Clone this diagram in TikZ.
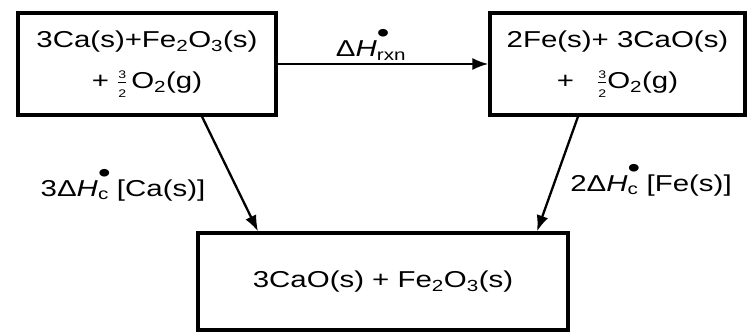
\documentclass[tikz,border=0pt]{standalone}
\usepackage{fontspec}
\setmainfont{Liberation Sans}[FakeStretch=1.28]
\usetikzlibrary{arrows.meta}
\newcommand{\chemsize}{\fontsize{23}{41}\selectfont}
\newcommand{\thalf}{\ensuremath{\frac{\mbox{\fontsize{11}{11}\selectfont 3}}{\mbox{\fontsize{11}{11}\selectfont 2}}}}
\newcommand{\dH}[1]{Δ\textit{H}\makebox[0pt][l]{\raisebox{0.6em}{\fontsize{28}{28}\selectfont\textbullet}}\textsubscript{#1}}
\begin{document}
\begin{tikzpicture}[x=1pt, y=1pt, font=\chemsize,
    box/.style={draw, line width=3.2pt, align=center, inner sep=0pt},
    arr/.style={-{Latex[length=16pt,width=12pt]}, line width=2.3pt}]
  \useasboundingbox (0,0) rectangle (747,332);
  \node[box, minimum width=258pt, minimum height=102pt] (reac) at (147,268)
    {3Ca(s)+Fe\textsubscript{2}O\textsubscript{3}(s)\\ + \thalf\,O\textsubscript{2}(g)};
  \node[box, minimum width=255pt, minimum height=102pt] (prod) at (617.5,268)
    {2Fe(s)+ 3CaO(s)\\ +\quad\thalf O\textsubscript{2}(g)};
  \node[box, minimum width=370pt, minimum height=97pt]  (oxid) at (383,50.5)
    {3CaO(s) + Fe\textsubscript{2}O\textsubscript{3}(s)};
  \node (rxn) at (371,287) {\dH{rxn}};
  \node (cca) at (123,147) {3\dH{c} [Ca(s)]};
  \node (cfe) at (651,152) {2\dH{c} [Fe(s)]};
  \draw[arr] (reac.east) -- (prod.west);
  \draw[arr] ([xshift=55pt]reac.south) -- ([xshift=-125pt]oxid.north);
  \draw[arr] ([xshift=-39.5pt]prod.south) -- ([xshift=154pt]oxid.north);
\end{tikzpicture}
\end{document}
